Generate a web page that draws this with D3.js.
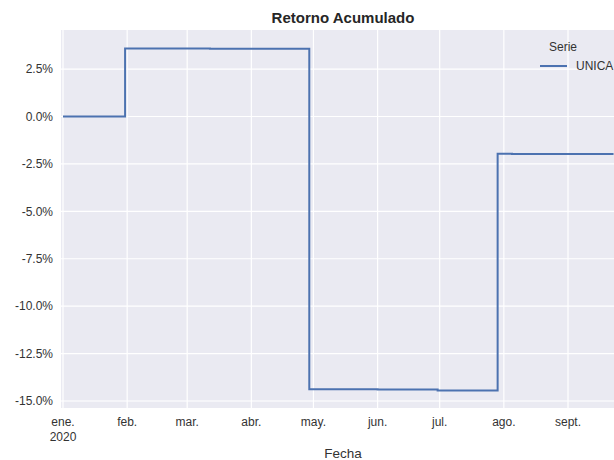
<!DOCTYPE html>
<html>
<head>
<meta charset="utf-8">
<script src="https://cdn.jsdelivr.net/npm/d3@7"></script>
<style>
body { margin: 0; background: #fff; }
text { font-family: "Liberation Sans", Arial, sans-serif; }
</style>
</head>
<body>
<div id="chart"></div>
<script>
var width = 614,
    height = 460

// step series: date the level starts, cumulative return (%)
var dates = ["2020-01-01", "2020-01-31", "2020-02-19", "2020-03-12", "2020-04-29", "2020-06-01", "2020-06-30", "2020-07-29", "2020-08-05", "2020-09-23"]
var values = [0.0, 3.58, 3.58, 3.57, -14.38, -14.39, -14.44, -1.96, -1.98, -1.98]
var monthLabels = ["ene.", "feb.", "mar.", "abr.", "may.", "jun.", "jul.", "ago.", "sept."]
var yTicks = [2.5, 0, -2.5, -5, -7.5, -10, -12.5, -15]
var seriesName = "UNICA"

var parse = d3.timeParse("%Y-%m-%d")
var data = dates.map(function(d, i) { return {date: parse(d), value: values[i]} })

var svg = d3.select("#chart")
    .append("svg")
    .attr("width", width)
    .attr("height", height)

var plotLeft = 61, plotTop = 30, plotBottom = 408, plotRight = 616

var x = d3.scaleTime()
    .domain([parse("2020-01-01"), parse("2020-09-01")])
    .range([63, 568])

var y = d3.scaleLinear()
    .domain([0, -15])
    .range([116.5, 401])

// background
svg.append("rect")
    .attr("x", plotLeft).attr("y", plotTop)
    .attr("width", plotRight - plotLeft).attr("height", plotBottom - plotTop)
    .style("fill", "#EAEAF2")

var monthTicks = d3.range(9).map(function(m) { return new Date(2020, m, 1) })

// grid
svg.selectAll(".vgrid").data(monthTicks).enter().append("line")
    .attr("x1", function(d) { return x(d) }).attr("x2", function(d) { return x(d) })
    .attr("y1", plotTop).attr("y2", plotBottom)
    .style("stroke", "#fff").style("stroke-width", 1.2)
svg.selectAll(".hgrid").data(yTicks).enter().append("line")
    .attr("x1", plotLeft).attr("x2", plotRight)
    .attr("y1", function(d) { return y(d) }).attr("y2", function(d) { return y(d) })
    .style("stroke", "#fff").style("stroke-width", 1.2)

// y tick labels (plain hyphen as minus)
svg.selectAll(".ylab").data(yTicks).enter().append("text")
    .attr("x", 53).attr("y", function(d) { return y(d) })
    .attr("dy", "0.35em")
    .attr("text-anchor", "end")
    .style("font-size", "12px").style("fill", "#333")
    .text(function(d) { return d.toFixed(1) + "%" })

// x tick labels
svg.selectAll(".xlab").data(monthTicks).enter().append("text")
    .attr("x", function(d) { return x(d) }).attr("y", 426)
    .attr("text-anchor", "middle")
    .style("font-size", "12px").style("fill", "#333")
    .text(function(d, i) { return monthLabels[i] })
svg.append("text")
    .attr("x", x(monthTicks[0])).attr("y", 441)
    .attr("text-anchor", "middle")
    .style("font-size", "12px").style("fill", "#333")
    .text("2020")

// line
var line = d3.line()
    .x(function(d) { return x(d.date) })
    .y(function(d) { return y(d.value) })
    .curve(d3.curveStepAfter)
svg.append("path")
    .datum(data)
    .attr("d", line)
    .style("fill", "none")
    .style("stroke", "#4C72B0")
    .style("stroke-width", 2)

// title and axis label
svg.append("text").attr("x", 343).attr("y", 23)
    .attr("text-anchor", "middle")
    .style("font-size", "15px").style("font-weight", "bold").style("fill", "#262626")
    .text("Retorno Acumulado")
svg.append("text").attr("x", 343).attr("y", 458)
    .attr("text-anchor", "middle")
    .style("font-size", "13.5px").style("fill", "#333")
    .text("Fecha")

// legend
svg.append("text").attr("x", 563).attr("y", 51)
    .attr("text-anchor", "middle")
    .style("font-size", "12px").style("fill", "#333")
    .text("Serie")
svg.append("line").attr("x1", 540).attr("x2", 567).attr("y1", 66).attr("y2", 66)
    .style("stroke", "#4C72B0").style("stroke-width", 2)
svg.append("text").attr("x", 576).attr("y", 66)
    .attr("dy", "0.35em")
    .style("font-size", "12px").style("fill", "#333")
    .text(seriesName)
</script>
</body>
</html>
